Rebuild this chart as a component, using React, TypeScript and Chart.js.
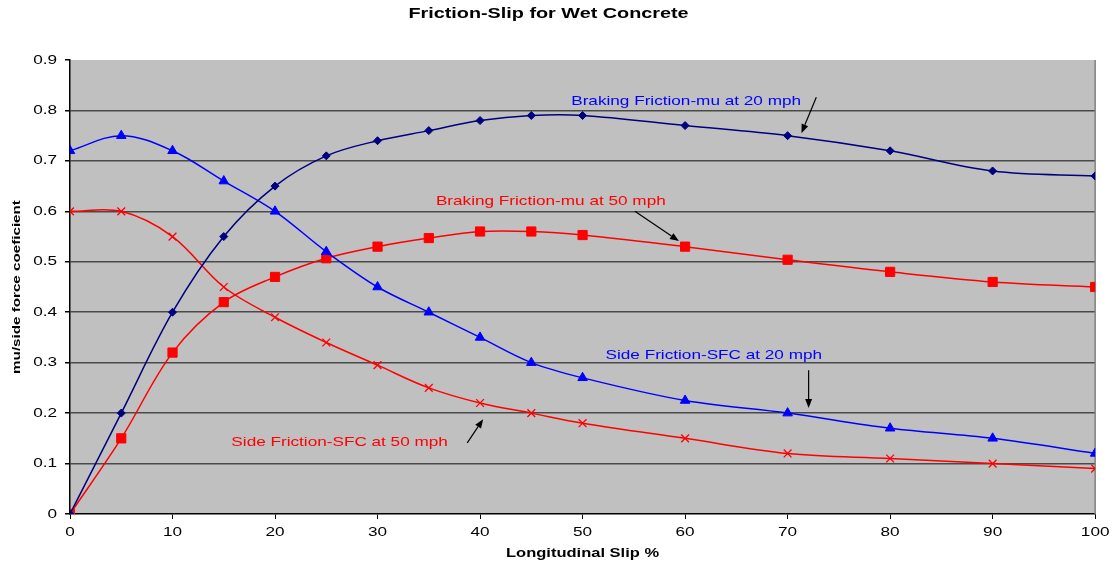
import React, { useEffect, useRef } from "react";
import { Chart, registerables } from "chart.js";

Chart.register(...registerables);

const slip = [0, 5, 10, 15, 20, 25, 30, 35, 40, 45, 50, 60, 70, 80, 90, 100];
const brakingMu20 = [0, 0.2, 0.4, 0.55, 0.65, 0.71, 0.74, 0.76, 0.78, 0.79, 0.79, 0.77, 0.75, 0.72, 0.68, 0.67];
const sideSfc20 = [0.72, 0.75, 0.72, 0.66, 0.6, 0.52, 0.45, 0.4, 0.35, 0.3, 0.27, 0.225, 0.2, 0.17, 0.15, 0.12];
const brakingMu50 = [0, 0.15, 0.32, 0.42, 0.47, 0.507, 0.53, 0.547, 0.56, 0.56, 0.553, 0.53, 0.504, 0.48, 0.46, 0.45];
const sideSfc50 = [0.6, 0.6, 0.55, 0.45, 0.39, 0.34, 0.295, 0.25, 0.22, 0.2, 0.18, 0.15, 0.12, 0.11, 0.1, 0.09];

const seriesNames = [
  "Braking Friction-mu at 20 mph",
  "Side Friction-SFC at 20 mph",
  "Braking Friction-mu at 50 mph",
  "Side Friction-SFC at 50 mph",
];

// annotation labels (data coordinates) and arrows (data coordinates)
const labelTexts = seriesNames;
const labelX = [60.1, 62.8, 46.9, 26.3];
const labelY = [0.818, 0.315, 0.62, 0.141];
const arrowFromX = [72.8, 72.05, 55.1, 38.75];
const arrowFromY = [0.826, 0.285, 0.6, 0.141];
const arrowToX = [71.35, 72.05, 59.4, 40.3];
const arrowToY = [0.755, 0.21, 0.541, 0.188];

const FONT = 'Arial, "Liberation Sans", sans-serif';
const NAVY = "#000080";
const BLUE = "#0000FF";
const RED = "#FF0000";
const labelColors = [BLUE, BLUE, RED, RED];
const TEXT_STRETCH = 1.32;

const toXY = (ys: number[]) => slip.map((x, i) => ({ x, y: ys[i] }));

const bgPlugin = {
  id: "plotBg",
  beforeDraw(chart: any) {
    const { ctx, chartArea: a } = chart;
    ctx.save();
    ctx.fillStyle = "#C0C0C0";
    ctx.fillRect(a.left, a.top, a.right - a.left, a.bottom - a.top);
    ctx.restore();
  },
  beforeDatasetsDraw(chart: any) {
    const { ctx, chartArea: a } = chart;
    ctx.save();
    ctx.strokeStyle = "#808080";
    ctx.lineWidth = 1.5;
    ctx.beginPath();
    ctx.moveTo(a.right, a.top);
    ctx.lineTo(a.right, a.bottom);
    ctx.stroke();
    ctx.restore();
  },
};

const annotationPlugin = {
  id: "annots",
  afterDatasetsDraw(chart: any) {
    const { ctx } = chart;
    const xs = chart.scales.x;
    const ys = chart.scales.y;
    ctx.save();
    ctx.font = `13px ${FONT}`;
    ctx.textAlign = "center";
    ctx.textBaseline = "middle";
    labelTexts.forEach((t, i) => {
      ctx.fillStyle = labelColors[i];
      ctx.fillText(t, xs.getPixelForValue(labelX[i]), ys.getPixelForValue(labelY[i]));
    });
    ctx.strokeStyle = "#000";
    ctx.fillStyle = "#000";
    ctx.lineWidth = 1.2;
    arrowFromX.forEach((_, i) => {
      const x1 = xs.getPixelForValue(arrowFromX[i]);
      const y1 = ys.getPixelForValue(arrowFromY[i]);
      const x2 = xs.getPixelForValue(arrowToX[i]);
      const y2 = ys.getPixelForValue(arrowToY[i]);
      const ang = Math.atan2(y2 - y1, x2 - x1);
      const hl = 9;
      const hw = 3.5;
      const bx = x2 - hl * Math.cos(ang);
      const by = y2 - hl * Math.sin(ang);
      ctx.beginPath();
      ctx.moveTo(x1, y1);
      ctx.lineTo(bx, by);
      ctx.stroke();
      ctx.beginPath();
      ctx.moveTo(x2, y2);
      ctx.lineTo(bx + hw * Math.sin(ang), by - hw * Math.cos(ang));
      ctx.lineTo(bx - hw * Math.sin(ang), by + hw * Math.cos(ang));
      ctx.closePath();
      ctx.fill();
    });
    ctx.restore();
  },
};

export default function App() {
  const ref = useRef<HTMLCanvasElement | null>(null);
  useEffect(() => {
    document.body.style.margin = "0";
    if (!ref.current) return;
    // widen glyphs along the text direction (the reference text is drawn wide)
    const c2d: any = ref.current.getContext("2d");
    const origFill = c2d.fillText.bind(c2d);
    c2d.fillText = (text: string, x: number, y: number, maxWidth?: number) => {
      c2d.save();
      c2d.translate(x, y);
      c2d.scale(TEXT_STRETCH, 1);
      if (maxWidth === undefined) origFill(text, 0, 0);
      else origFill(text, 0, 0, maxWidth / TEXT_STRETCH);
      c2d.restore();
    };
    const mk = (label: string, data: number[], color: string, style: string, r: number) => ({
      label,
      data: toXY(data),
      borderColor: color,
      backgroundColor: color,
      borderWidth: 1.5,
      pointStyle: style,
      pointRadius: r,
      pointBorderWidth: 1,
      pointBackgroundColor: color,
      pointBorderColor: color,
      tension: 0.35,
      fill: false,
    });
    const chart = new Chart(ref.current, {
      type: "line",
      data: {
        datasets: [
          mk(seriesNames[0], brakingMu20, NAVY, "rectRot", 4),
          mk(seriesNames[1], sideSfc20, BLUE, "triangle", 5.5),
          mk(seriesNames[2], brakingMu50, RED, "rect", 6.5),
          { ...mk(seriesNames[3], sideSfc50, RED, "crossRot", 5.5), pointBorderWidth: 1.3 },
        ] as any,
      },
      options: {
        animation: false,
        responsive: false,
        maintainAspectRatio: false,
        layout: { padding: { left: 0, right: 15, top: 0, bottom: 0 } },
        plugins: {
          legend: { display: false },
          tooltip: { enabled: false },
          title: {
            display: true,
            text: "Friction-Slip for Wet Concrete",
            color: "#000",
            font: { family: FONT, size: 15, weight: "bold" },
            padding: { top: 5, bottom: 37 },
          },
        },
        scales: {
          x: {
            type: "linear",
            min: 0,
            max: 100,
            afterFit: (s: any) => {
              s.height = 52;
            },
            ticks: {
              stepSize: 10,
              color: "#000",
              font: { family: FONT, size: 13 },
              padding: 6,
              maxRotation: 0,
              autoSkip: false,
            },
            grid: {
              drawOnChartArea: false,
              drawTicks: true,
              tickLength: 5,
              tickColor: "#000",
            },
            border: { color: "#000", width: 1.5 },
            title: {
              display: true,
              text: "Longitudinal Slip %",
              color: "#000",
              font: { family: FONT, size: 12.5, weight: "bold" },
              padding: { top: 4, bottom: 5 },
            },
          },
          y: {
            type: "linear",
            min: 0,
            max: 0.9,
            afterFit: (s: any) => {
              s.width = 70;
            },
            ticks: {
              stepSize: 0.1,
              color: "#000",
              font: { family: FONT, size: 13 },
              padding: 8,
              callback: (v: any) => (Number(v) === 0 ? "0" : Number(v).toFixed(1)),
            },
            grid: {
              color: (c: any) => {
                const v = c.tick ? c.tick.value : 0;
                if (Math.abs(v - 0.9) < 1e-6 || Math.abs(v) < 1e-6) return "rgba(0,0,0,0)";
                return "#4a4a4a";
              },
              lineWidth: 1.5,
              drawTicks: true,
              tickLength: 5,
              tickColor: "#000",
            },
            border: { color: "#000", width: 1.5 },
            title: {
              display: true,
              text: "mu/side force coeficient",
              color: "#000",
              font: { family: FONT, size: 11.5, weight: "bold" },
              padding: { top: 10, bottom: 4 },
            },
          },
        },
      } as any,
      plugins: [bgPlugin, annotationPlugin],
    });
    return () => chart.destroy();
  }, []);
  return (
    <div style={{ width: 1112, height: 566 }}>
      <canvas ref={ref} width={1112} height={566} style={{ display: "block" }} />
    </div>
  );
}
